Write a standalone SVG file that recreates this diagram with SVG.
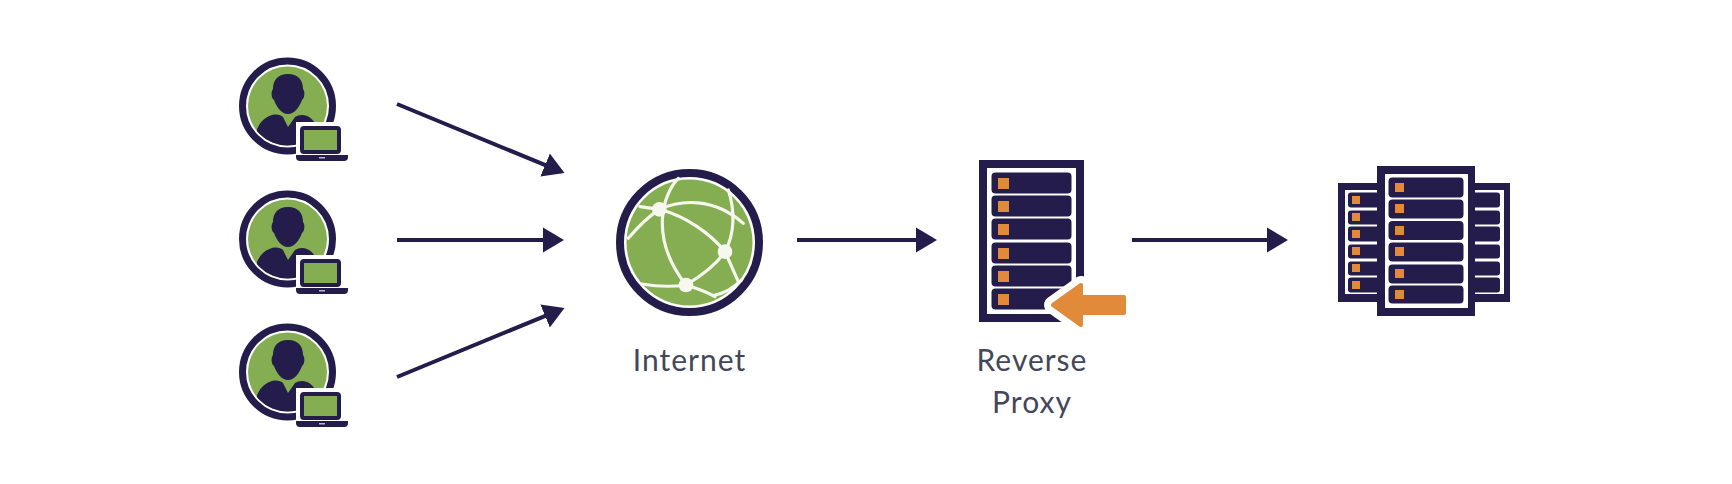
<svg xmlns="http://www.w3.org/2000/svg" width="1732" height="484" viewBox="0 0 1732 484">
<style>
.lbl{font-family:Lato,"Liberation Sans",sans-serif;font-size:30px;letter-spacing:1px;fill:#44465a;text-anchor:middle}
.cn{stroke:#241c4a;stroke-width:4;fill:none;marker-end:url(#ah)}
.n{fill:#241c4a}.g{fill:#85ae52}.o{fill:#e08a3a}.w{stroke:#f6f8ee;fill:none;stroke-width:9.500;stroke-linecap:round}
</style>
<defs>
<marker id="ah" markerUnits="userSpaceOnUse" markerWidth="24" markerHeight="28" refX="1" refY="14" orient="auto"><path d="M0 1.500L21 14L0 26.500Z" fill="#241c4a"/></marker>
<clipPath id="disc"><circle cx="47.500" cy="49" r="39.500"/></clipPath>
<g id="user"><circle cx="47.500" cy="49" r="45" fill="#fff" stroke="#241c4a" stroke-width="7"/><circle cx="47.500" cy="49" r="39.500" class="g"/>
<path class="n" d="M48 17C37 17 33 24 33 32C31 34 31 41 34 43C37 51 42 57 48 57C54 57 59 51 62 43C65 41 65 34 63 32C63 24 59 17 48 17Z"/>
<path class="n" clip-path="url(#disc)" d="M17 72C21 63 26 60 32 58C37 57 41 58 43 60L48 70L55 60C58 58 63 57 67 59C72 61 75 65 78 72V92H17Z"/>
<rect x="56" y="65" width="49" height="35" fill="#fff"/><rect x="62" y="71" width="37" height="24" rx="2" class="g" stroke="#241c4a" stroke-width="4"/><path class="n" d="M56 98H108V100Q108 104 104 104H60Q56 104 56 100Z"/><rect x="79" y="100" width="6" height="1.500" fill="#b9b6c8"/></g>
<g id="rack"><rect width="105" height="162" class="n"/><rect x="8" y="8" width="89" height="146" fill="#fff"/>
<rect x="12.500" y="12.500" width="80" height="21" rx="4" class="n"/><rect x="12.500" y="35.500" width="80" height="21" rx="4" class="n"/><rect x="12.500" y="58.500" width="80" height="21" rx="4" class="n"/><rect x="12.500" y="82.500" width="80" height="21" rx="4" class="n"/><rect x="12.500" y="105.500" width="80" height="21" rx="4" class="n"/><rect x="12.500" y="128.500" width="80" height="21" rx="4" class="n"/>
<rect x="19" y="18" width="11" height="11" class="o"/><rect x="19" y="41" width="11" height="11" class="o"/><rect x="19" y="64" width="11" height="11" class="o"/><rect x="19" y="88" width="11" height="11" class="o"/><rect x="19" y="111" width="11" height="11" class="o"/><rect x="19" y="134" width="11" height="11" class="o"/></g>
</defs>
<rect width="1732" height="484" fill="#fff"/>
<g id="connectors">
<path class="cn" d="M397 104L546 165.400"/><path class="cn" d="M397 240H544"/><path class="cn" d="M397 377L546 315.600"/><path class="cn" d="M797 240H917"/><path class="cn" d="M1132 240H1268"/>
</g>
<g id="user-1"><use href="#user" x="240" y="57"/></g>
<g id="user-2"><use href="#user" x="240" y="190"/></g>
<g id="user-3"><use href="#user" x="240" y="323"/></g>
<g id="internet"><circle cx="689.500" cy="242.500" r="69.500" fill="#fff" stroke="#241c4a" stroke-width="8"/><circle cx="689.500" cy="242.500" r="63" class="g"/>
<g transform="translate(600 160) scale(.3333)"><g class="w"><path d="M235 55C190 100 145 230 258 375"/><path d="M85 235C110 205 145 170 178 148L120 140"/><path d="M178 148C240 120 340 110 430 190"/><path d="M178 148C260 170 330 220 375 275"/><path d="M375 275C345 320 300 350 258 375"/><path d="M375 275L415 365"/><path d="M375 275C405 220 405 150 385 90"/><path d="M258 375C210 382 160 378 125 372"/><path d="M258 375C290 385 320 395 345 410"/><path d="M345 405C375 400 400 385 425 360"/></g>
<circle cx="178" cy="148" r="22" fill="#f6f8ee"/><circle cx="375" cy="275" r="22" fill="#f6f8ee"/><circle cx="258" cy="375" r="22" fill="#f6f8ee"/></g>
<text class="lbl" x="689.500" y="371">Internet</text></g>
<g id="reverse-proxy"><use href="#rack" x="979" y="160"/>
<path fill="#fff" stroke="#fff" stroke-width="18" stroke-linejoin="round" d="M1053 305L1081 285V297H1124V313H1081V325Z"/>
<path class="o" stroke="#e08a3a" stroke-width="4" stroke-linejoin="round" d="M1053 305L1081 285V297H1124V313H1081V325Z"/>
<text class="lbl" x="1032" y="371">Reverse</text><text class="lbl" x="1032" y="413">Proxy</text></g>
<g id="servers"><rect x="1338" y="183" width="172" height="119" class="n"/><rect x="1345" y="190" width="159" height="104" fill="#fff"/>
<g class="n"><rect x="1348" y="192.500" width="152" height="15" rx="3"/><rect x="1348" y="210.500" width="152" height="14" rx="3"/><rect x="1348" y="226.500" width="152" height="15" rx="3"/><rect x="1348" y="244.500" width="152" height="14" rx="3"/><rect x="1348" y="261.500" width="152" height="14" rx="3"/><rect x="1348" y="277.500" width="152" height="15" rx="3"/></g>
<g class="o"><rect x="1352" y="196" width="8" height="8"/><rect x="1352" y="213" width="8" height="8"/><rect x="1352" y="230" width="8" height="8"/><rect x="1352" y="247" width="8" height="8"/><rect x="1352" y="264" width="8" height="8"/><rect x="1352" y="281" width="8" height="8"/></g>
<rect x="1377" y="166" width="98" height="150" class="n"/><rect x="1385" y="174" width="83" height="134" fill="#fff"/>
<g class="n"><rect x="1388.500" y="177.500" width="75" height="20" rx="4"/><rect x="1388.500" y="199.500" width="75" height="19" rx="4"/><rect x="1388.500" y="221" width="75" height="19" rx="4"/><rect x="1388.500" y="242.500" width="75" height="19" rx="4"/><rect x="1388.500" y="264.500" width="75" height="19" rx="4"/><rect x="1388.500" y="285.500" width="75" height="18" rx="4"/></g>
<g class="o"><rect x="1395" y="183" width="9" height="9"/><rect x="1395" y="204" width="9" height="9"/><rect x="1395" y="226" width="9" height="9"/><rect x="1395" y="247" width="9" height="9"/><rect x="1395" y="269" width="9" height="9"/><rect x="1395" y="290" width="9" height="9"/></g></g>
</svg>
